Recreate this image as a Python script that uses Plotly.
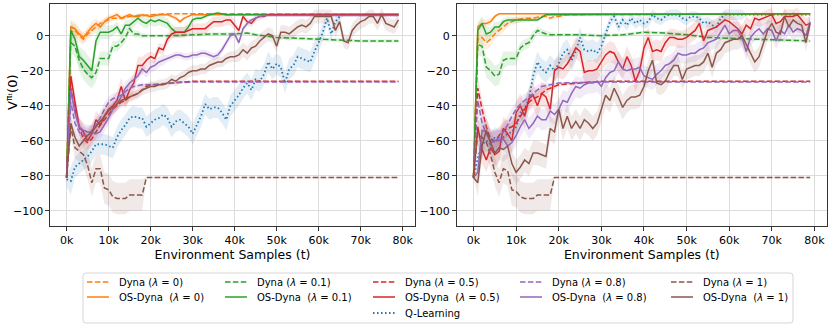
import plotly.graph_objects as go
from plotly.subplots import make_subplots

# x positions are in thousands of environment samples
STEPS = [0, 1, 2, 3, 4, 5, 6, 7, 8, 9, 10, 11, 12, 13, 14, 15, 16, 17, 18, 19,
         20, 21, 22, 23, 24, 25, 26, 27, 28, 29, 30, 31, 32, 33, 34, 35, 36, 37, 38, 39,
         40, 41, 42, 43, 44, 45, 46, 47, 48, 49, 50, 51, 52, 53, 54, 55, 56, 57, 58, 59,
         60, 61, 62, 63, 64, 65, 66, 67, 68, 69, 70, 71, 72, 73, 74, 75, 76, 77, 78, 79]

X_TICKS = [0, 10, 20, 30, 40, 50, 60, 70, 80]
X_TICK_TEXT = ["0k", "10k", "20k", "30k", "40k", "50k", "60k", "70k", "80k"]
Y_TICKS = [-100, -80, -60, -40, -20, 0]

# ---------------- left panel ----------------
L_DYNA0_X = [0, 1, 2, 3, 4, 5, 6, 7, 8, 9, 10, 11, 13, 15, 17, 20, 25, 30, 79]
L_DYNA0_Y = [-81, 2, 3, 0, -2, 1, 3, 5, 7, 8, 9, 10, 10, 11, 11, 12, 12.5, 12.5, 12.5]
L_DYNA0_SD = [0, 4, 4, 4, 3, 3, 3, 3, 2, 2, 2, 1.5, 1, 1, 1, 0.5, 0.3, 0.3, 0.3]

L_OS0_X = [0, 1, 2, 3, 4, 5, 6, 7, 8, 9, 10, 11, 12, 13, 14, 15, 16,
           18, 20, 22, 24, 26, 27, 28, 30, 32, 79]
L_OS0_Y = [-81, 5, 4, 1, -1, 2, 5, 7, 5, 8, 10, 11, 12, 10, 11, 12, 11,
           12, 11, 12, 12, 10, 8, 10, 12, 12, 12.5]
L_OS0_SD = [0, 4, 4, 3, 3, 3, 3, 3, 2, 2, 2, 1.5, 1.5, 1.5, 1.5, 1, 1,
            1, 1, 1, 1, 1.5, 1.5, 1, 0.5, 0.3, 0.3]

L_DYNA01_X = [0, 1, 2, 3, 4, 5, 6, 7, 8, 9, 10, 11, 12, 13, 14, 15, 16, 17, 18,
              20, 25, 30, 35, 40, 43, 45, 50, 55, 60, 65, 70, 79]
L_DYNA01_Y = [-81, -4, -6, -14, -19, -22, -24, -21, -13, -13, -13, -6, -6, -4, -1, 4, 1, 1, 0,
              0, 0, 0.5, 1, 1, 1.5, 0.5, -1, -1.5, -2, -2.5, -3, -3]
L_DYNA01_SD = [0, 6, 6, 6, 6, 6, 6, 5, 4, 4, 4, 3, 3, 3, 3, 2, 2, 2, 1.5,
               1, 1, 1, 1, 1, 1, 1, 1, 1, 1, 1, 1, 1]

L_OS01_X = [0, 1, 2, 3, 4, 5, 6, 7, 8, 9, 10, 11, 12, 13, 14, 15, 16, 17, 18, 19,
            20, 21, 22, 23, 24, 25, 26, 27, 28, 29, 30, 31, 32, 34, 36, 38, 40, 79]
L_OS01_Y = [-81, 3, -2, -12, -14, -17, -20, -3, 2, 2, 2, 3, 5, 1, 6, 6, 8, 10, 8, 7,
            9, 8, 9, 8, 7, 4, 2, 2, 2, 5, 9, 10, 10, 12, 13, 12, 12, 12]
L_OS01_SD = [0, 6, 6, 6, 6, 6, 6, 5, 4, 4, 4, 3, 3, 3, 3, 3, 3, 3, 3, 3,
             3, 3, 3, 3, 3, 3, 3, 3, 3, 2, 2, 1.5, 1.5, 1, 0.5, 0.5, 0.3, 0.3]

L_DYNA05_X = [0, 1, 2, 3, 4, 5, 6, 7, 8, 9, 10, 11, 12, 13, 14, 15, 16, 17, 18, 19, 20,
              22, 25, 30, 79]
L_DYNA05_Y = [-81, -30, -42, -52, -59, -61, -59, -55, -51, -48, -45, -42, -40, -38, -37, -35,
              -34, -33, -31, -29, -28, -28, -27, -26, -26]
L_DYNA05_SD = [0, 6, 5, 5, 5, 5, 4, 4, 4, 4, 4, 3, 3, 3, 3, 2, 2, 2, 1.5, 1, 1,
               0.5, 0.5, 0.3, 0.3]

L_OS05_Y = [-81, -23, -38, -52, -55, -60, -56, -48, -51, -46, -42, -40, -37, -29, -37, -31,
            -27, -17, -17, -14, -12, -13, -7, -8, -2, 1, 2, 2, 2, 3, 4, 4, 4, 4, 6, 8, 8, 8,
            9, 9, 6, 3, 11, 8, 7, 10, 11, 11, 12, 12, 12, 12, 12, 12, 12, 12, 12, 12, 12, 12,
            12, 12, 12, 12, 12, 12, 12, 12, 12, 12, 12, 12, 12, 12, 12, 12, 12, 12, 12, 12]
L_OS05_SD = [0, 6, 6, 5, 5, 5, 5, 5, 5, 5, 5, 5, 5, 5, 5, 5, 5, 5, 5, 4,
             3, 3, 3, 3, 3, 3, 3, 3, 3, 3, 3, 3, 3, 3, 3, 3, 3, 3, 3, 3,
             3, 2, 2, 2, 2, 2, 2, 1, 0.5, 0.5, 0.5, 0.5, 0.5, 0.5, 0.5, 0.5, 0.5, 0.5, 0.5, 0.5,
             0.5, 0.5, 0.5, 0.5, 0.5, 0.5, 0.5, 0.5, 0.5, 0.5, 0.5, 0.5, 0.5, 0.5, 0.5, 0.5, 0.5,
             0.5, 0.5, 0.5]

L_DYNA08_X = [0, 1, 2, 3, 4, 5, 6, 7, 8, 9, 10, 11, 12, 13, 14, 15, 16, 18, 20, 25, 30, 79]
L_DYNA08_Y = [-81, -38, -50, -55, -57, -57, -54, -51, -47, -42, -38, -36, -35, -34, -32, -30,
              -29, -28, -28, -27, -26.5, -26.5]
L_DYNA08_SD = [0, 6, 5, 5, 5, 5, 4, 4, 4, 4, 3, 3, 3, 2, 2, 2, 1.5, 1, 1, 0.5, 0.3, 0.3]

L_OS08_Y = [-81, -31, -44, -52, -54, -55, -55, -56, -55, -51, -47, -42, -39, -35, -30, -27,
            -25, -23, -19, -21, -18, -17, -15, -14, -13, -12, -11, -11, -12, -12, -11, -11,
            -10, -10, -11, -12, -11, -8, -4, 0, 1, -4, 4, 7, 9, 10, 11, 11.5, 11.5, 11.5,
            11.5, 11.5, 11.5, 11.5, 11.5, 11.5, 11.5, 11.5, 11.5, 11.5, 11.5, 11.5, 11.5, 11.5,
            11.5, 11.5, 11.5, 11.5, 11.5, 11.5, 11.5, 11.5, 11.5, 11.5, 11.5, 11.5, 11.5, 11.5,
            11.5, 11.5]
L_OS08_SD = [0, 6, 5, 5, 4, 4, 4, 4, 4, 4, 4, 4, 4, 4, 4, 3, 3, 3, 3, 3,
             3, 3, 3, 3, 2, 2, 2, 2, 2, 2, 2, 2, 2, 2, 2, 2, 2, 2, 2, 2,
             2, 2, 2, 1.5, 1, 1, 0.5, 0.5, 0.5, 0.5, 0.5, 0.5, 0.5, 0.5, 0.5, 0.5, 0.5, 0.5, 0.5,
             0.5, 0.5, 0.5, 0.5, 0.5, 0.5, 0.5, 0.5, 0.5, 0.5, 0.5, 0.5, 0.5, 0.5, 0.5, 0.5, 0.5,
             0.5, 0.5, 0.5, 0.5]

L_DYNA1_X = [0, 1, 2, 3, 4, 5, 6, 7, 8, 9, 10, 11, 12, 13, 14, 15, 16, 17, 18, 19, 79]
L_DYNA1_Y = [-81, -52, -64, -66, -68, -74, -84, -76, -76, -87, -88, -92, -93, -93, -93, -91,
             -91, -91, -91, -81, -81]
L_DYNA1_SD = [0, 6, 6, 6, 7, 8, 8, 8, 8, 9, 9, 9, 9, 9, 9, 9, 9, 9, 9, 0.5, 0.5]

L_OS1_Y = [-81, -50, -58, -63, -60, -57, -55, -52, -49, -46, -43, -41, -39, -37, -36, -35,
           -34, -33, -31, -30, -29, -29, -28, -28, -27, -25, -26, -24, -23, -21, -20, -20,
           -19, -19, -17, -16, -15, -15, -13, -12, -12, -11, -8, -10, -7, -6, -3, -1, 1, 0,
           -6, 2, 2, 1, 3, 5, 6, 5, 7, 11, 11, 11, 11, 11, 3, 8, -3, -4, 3, 6, 8, 9, 11,
           11, 7, 12, 7, 6, 5, 9]
L_OS1_SD = [0, 5, 4, 4, 4, 4, 4, 4, 4, 4, 3, 3, 3, 3, 3, 3, 3, 3, 3, 3,
            3, 3, 3, 3, 3, 3, 3, 3, 3, 3, 3, 3, 3, 3, 3, 3, 3, 3, 3, 3,
            3, 4, 4, 4, 4, 4, 4, 4, 4, 4, 4, 4, 4, 4, 4, 4, 4, 4, 4, 4,
            4, 4, 4, 4, 4, 4, 4, 4, 4, 4, 4, 4, 4, 4, 4, 4, 4, 4, 4, 4]

L_Q_Y = [-82, -83, -75, -73, -71, -69, -66, -62, -62, -62, -63, -64, -58, -54, -51, -47,
         -46, -47, -47, -52, -50, -48, -47, -45, -47, -52, -49, -48, -50, -52, -56, -51,
         -46, -39, -42, -41, -41, -44, -48, -40, -37, -34, -30, -27, -31, -25, -26, -22,
         -15, -19, -16, -18, -27, -19, -17, -12, -13, -14, -15, -9, -4, 2, 10, 1, 8, 11,
         12, 12, 12, 12, 12, 12, 12, 12, 12, 12, 12, 12, 12, 12]
L_Q_SD = [4, 8, 6, 6, 6, 6, 6, 6, 6, 6, 6, 6, 6, 6, 6, 6, 6, 6, 6, 6,
          6, 6, 6, 6, 6, 6, 6, 6, 6, 6, 6, 6, 6, 6, 6, 6, 6, 6, 6, 6,
          6, 6, 6, 6, 6, 6, 6, 6, 6, 6, 6, 6, 6, 6, 6, 6, 6, 6, 6, 6,
          5, 5, 4, 4, 3, 2, 0.5, 0.5, 0.5, 0.5, 0.5, 0.5, 0.5, 0.5, 0.5, 0.5, 0.5, 0.5, 0.5, 0.5]

# ---------------- right panel ----------------
R_DYNA0_X = [0, 1, 2, 3, 4, 5, 6, 7, 8, 9, 10, 12, 14, 16, 17, 18, 19, 20, 22, 79]
R_DYNA0_Y = [-81, -2, -1, -4, -2, 1, 3, 5, 7, 8, 9, 10, 10, 11, 11, 10, 11, 11, 12, 12.5]
R_DYNA0_SD = [0, 4, 4, 4, 4, 3, 3, 3, 2, 2, 2, 1.5, 1.5, 1, 1, 1, 1, 1, 0.5, 0.3]

R_OS0_X = [0, 1, 2, 3, 4, 5, 6, 79]
R_OS0_Y = [-81, 5, 7, 7, 8, 11, 12.5, 12.5]
R_OS0_SD = [0, 3, 3, 2, 2, 1, 0.3, 0.3]

R_DYNA01_X = [0, 1, 2, 3, 4, 5, 6, 7, 8, 9, 10, 11, 12, 13, 14, 15, 16, 17, 18,
              20, 25, 30, 35, 40, 45, 50, 55, 60, 65, 70, 79]
R_DYNA01_Y = [-81, -5, -6, -18, -20, -23, -22, -14, -13, -13, -13, -7, -5, -4, 0, 3, 2, 1, 0.5,
              0.5, 0.5, 0, 0.5, 2, 1.5, 0.5, -1, -1.5, -2, -2.5, -3]
R_DYNA01_SD = [0, 6, 6, 6, 6, 6, 6, 5, 4, 4, 4, 3, 3, 3, 3, 2, 2, 2, 1.5,
               1, 1, 1, 1, 1, 1, 1, 1, 1, 1, 1, 1]

R_OS01_X = [0, 1, 2, 3, 4, 5, 6, 7, 8, 15, 17, 79]
R_OS01_Y = [-81, 3, 7, 1, 2, 5, 5, 8, 9, 9, 12, 12.5]
R_OS01_SD = [0, 4, 4, 4, 3, 3, 3, 2, 2, 1, 0.5, 0.3]

R_DYNA05_X = [0, 1, 2, 3, 4, 5, 6, 7, 8, 9, 10, 11, 12, 13, 14, 15, 16, 17, 18,
              20, 25, 30, 79]
R_DYNA05_Y = [-81, -30, -42, -52, -59, -60, -57, -54, -53, -52, -50, -46, -42, -38, -36, -35,
              -33, -31, -30, -28, -27, -26, -26]
R_DYNA05_SD = [0, 7, 6, 6, 6, 6, 5, 5, 5, 5, 5, 4, 4, 4, 3, 3, 3, 2, 2, 1, 0.5, 0.3, 0.3]

R_OS05_Y = [-81, -52, -65, -71, -64, -68, -66, -53, -56, -60, -44, -40, -46, -36, -34, -40,
            -33, -35, -42, -20, -18, -19, -16, -12, -7, -9, -21, -20, -20, -19, -15, -11,
            -9, -10, -15, -19, -12, -17, -26, -20, -7, -1, -9, -8, -9, -4, -1, -1, -2, -2,
            -1, 1, 3, 7, -3, 3, 4, 5, 7, 9, 8, 6, 4, 1, 6, 4, 10, 9, 10, 11, 12, 7, 8, 11,
            11, 11, 12, 9, 6, 7]
R_OS05_SD = [0, 8, 8, 7, 7, 7, 7, 7, 7, 7, 7, 7, 7, 7, 7, 7, 7, 7, 7, 6,
             6, 6, 6, 6, 6, 6, 6, 6, 6, 6, 6, 6, 6, 6, 6, 6, 6, 6, 6, 6,
             6, 6, 6, 6, 6, 5, 5, 5, 5, 5, 5, 5, 5, 5, 5, 5, 5, 5, 5, 5,
             5, 5, 5, 5, 5, 5, 4, 4, 4, 4, 4, 4, 4, 4, 4, 4, 4, 4, 4, 4]

R_DYNA08_X = [0, 1, 2, 3, 4, 5, 6, 7, 8, 9, 10, 11, 12, 13, 14, 15, 16, 18, 20, 30, 79]
R_DYNA08_Y = [-81, -37, -50, -56, -60, -61, -58, -55, -51, -46, -42, -39, -37, -35, -33, -31,
              -29, -28, -27, -26.5, -26.5]
R_DYNA08_SD = [0, 7, 6, 6, 6, 6, 5, 5, 5, 5, 4, 4, 4, 3, 3, 3, 2, 1, 0.5, 0.3, 0.3]

R_OS08_Y = [-81, -78, -54, -55, -61, -60, -60, -59, -63, -61, -57, -52, -48, -53, -50, -46,
            -48, -48, -43, -45, -42, -37, -38, -33, -29, -30, -28, -27, -27, -26, -29, -24,
            -21, -20, -15, -19, -20, -19, -19, -18, -23, -24, -25, -22, -20, -17, -16, -14,
            -10, -11, -11, -10, -10, -8, -7, -4, -3, -2, 2, 6, 1, 3, 3, -1, -9, -1, 2, 4,
            1, 4, 3, -3, 3, 1, 6, 2, 4, 3, 0, 8]
R_OS08_SD = [0, 6, 6, 6, 6, 6, 6, 6, 6, 6, 6, 6, 6, 6, 6, 6, 6, 6, 6, 6,
             6, 6, 6, 6, 6, 6, 6, 6, 6, 6, 6, 6, 6, 6, 6, 6, 6, 6, 6, 6,
             6, 6, 6, 6, 5, 5, 5, 5, 5, 5, 5, 5, 5, 5, 5, 5, 5, 5, 5, 5,
             5, 5, 5, 5, 5, 5, 5, 5, 5, 5, 5, 5, 5, 5, 5, 5, 5, 5, 5, 5]

R_DYNA1_X = [0, 1, 2, 3, 4, 5, 6, 7, 8, 9, 10, 11, 12, 14, 15, 18, 19, 79]
R_DYNA1_Y = [-81, -56, -58, -61, -68, -78, -84, -76, -77, -88, -89, -92, -93, -93, -91, -91,
             -81, -81]
R_DYNA1_SD = [0, 8, 8, 8, 8, 8, 8, 8, 9, 9, 9, 9, 9, 9, 9, 9, 0.5, 0.5]

R_OS1_Y = [-81, -84, -63, -54, -61, -67, -64, -65, -63, -73, -78, -75, -71, -73, -67, -67,
           -68, -69, -53, -55, -42, -53, -46, -53, -49, -53, -48, -50, -53, -50, -42, -34,
           -37, -30, -35, -41, -37, -35, -35, -34, -29, -20, -14, -27, -28, -26, -21, -17,
           -17, -25, -19, -18, -17, -17, -15, -10, -18, -10, -8, -4, -3, -2, -2, 0, -5,
           -10, -15, -12, -4, 3, 7, 2, 1, 11, 5, 9, 7, 6, -4, 7]
R_OS1_SD = [0, 8, 8, 7, 7, 7, 7, 7, 7, 7, 7, 7, 7, 7, 7, 7, 7, 7, 7, 7,
            7, 7, 7, 7, 7, 7, 7, 7, 7, 7, 7, 7, 7, 7, 7, 7, 7, 7, 7, 7,
            6, 6, 6, 6, 6, 6, 6, 6, 6, 6, 6, 6, 6, 6, 6, 6, 6, 6, 6, 6,
            6, 6, 6, 6, 6, 6, 6, 6, 6, 6, 5, 5, 5, 5, 5, 5, 5, 5, 5, 5]

R_Q_Y = [-81, -70, -62, -60, -62, -58, -60, -58, -56, -55, -52, -44, -42, -36, -23, -15,
         -19, -21, -17, -20, -16, -10, -8, -14, -9, -1, -8, -9, -8, -10, -6, 1, 8, 11, 5,
         9, 6, 10, 7, 9, 7, 8, 12, 10, 9, 11, 12, 12, 12, 10, 9, 11, 11, 10, 7, 8, 6, 5,
         10, 12, 12, 12, 12, 12, 12, 12, 12, 12, 12, 12, 12, 12, 12, 12, 12, 12, 12, 12,
         12, 12]
R_Q_SD = [0, 6, 6, 6, 6, 6, 6, 6, 6, 6, 6, 6, 6, 6, 6, 6, 6, 6, 6, 6,
          6, 6, 6, 6, 6, 6, 6, 6, 6, 6, 6, 3, 3, 3, 3, 3, 3, 3, 3, 3,
          3, 3, 3, 3, 3, 3, 3, 3, 3, 3, 3, 3, 3, 3, 3, 3, 3, 3, 3, 3,
          3, 3, 3, 3, 0.5, 0.5, 0.5, 0.5, 0.5, 0.5, 0.5, 0.5, 0.5, 0.5, 0.5, 0.5, 0.5, 0.5,
          0.5, 0.5]

LAMBDAS = ["0", "0.1", "0.5", "0.8", "1"]
COLORS = ["#ff7f0e", "#2ca02c", "#d62728", "#9467bd", "#8c564b"]
Q_COLOR = "#1f77b4"

# (dyna x, dyna y, dyna sd, os x, os y, os sd) per lambda, per panel
LEFT = [
    (L_DYNA0_X, L_DYNA0_Y, L_DYNA0_SD, L_OS0_X, L_OS0_Y, L_OS0_SD),
    (L_DYNA01_X, L_DYNA01_Y, L_DYNA01_SD, L_OS01_X, L_OS01_Y, L_OS01_SD),
    (L_DYNA05_X, L_DYNA05_Y, L_DYNA05_SD, STEPS, L_OS05_Y, L_OS05_SD),
    (L_DYNA08_X, L_DYNA08_Y, L_DYNA08_SD, STEPS, L_OS08_Y, L_OS08_SD),
    (L_DYNA1_X, L_DYNA1_Y, L_DYNA1_SD, STEPS, L_OS1_Y, L_OS1_SD),
]
RIGHT = [
    (R_DYNA0_X, R_DYNA0_Y, R_DYNA0_SD, R_OS0_X, R_OS0_Y, R_OS0_SD),
    (R_DYNA01_X, R_DYNA01_Y, R_DYNA01_SD, R_OS01_X, R_OS01_Y, R_OS01_SD),
    (R_DYNA05_X, R_DYNA05_Y, R_DYNA05_SD, STEPS, R_OS05_Y, R_OS05_SD),
    (R_DYNA08_X, R_DYNA08_Y, R_DYNA08_SD, STEPS, R_OS08_Y, R_OS08_SD),
    (R_DYNA1_X, R_DYNA1_Y, R_DYNA1_SD, STEPS, R_OS1_Y, R_OS1_SD),
]

FONT = "DejaVu Sans"
DASHED = "5.5px,2.4px"
DOTTED = "1.5px,2.5px"
NBSP = "\u00a0"

# page geometry (pixels) used to place the legend block under the panels
W, H = 830, 327
M_L, M_R, M_T, M_B = 50, 3, 4, 101
LEG_COLS = [87, 225, 373, 520, 671]   # left end of each legend column's line sample
LEG_ROWS = [282, 297, 313]
LEG_BOX = (83, 273, 793, 323)


def rgba(hex_color, a):
    h = hex_color.lstrip("#")
    r, g, b = int(h[0:2], 16), int(h[2:4], 16), int(h[4:6], 16)
    return f"rgba({r},{g},{b},{a})"


def px_x(px):
    return (px - M_L) / (W - M_L - M_R)


def px_y(py):
    return (H - M_B - py) / (H - M_T - M_B)


def add_band(fig, col, x, y, sd, color):
    lo = [v - s for v, s in zip(y, sd)]
    hi = [v + s for v, s in zip(y, sd)]
    fig.add_trace(go.Scatter(x=list(x) + list(x)[::-1], y=hi + lo[::-1],
                             fill="toself", fillcolor=rgba(color, 0.13),
                             line=dict(width=0), mode="lines", hoverinfo="skip",
                             showlegend=False), row=1, col=col)


def add_line(fig, col, x, y, color, dash, name, width=1.5):
    fig.add_trace(go.Scatter(x=x, y=y, mode="lines", name=name,
                             line=dict(color=color, width=width, dash=dash),
                             showlegend=False), row=1, col=col)


def legend_entry(fig, col_px, row_py, color, dash, text, width=1.5):
    fig.add_shape(type="line", xref="paper", yref="paper",
                  x0=px_x(col_px), x1=px_x(col_px + 22), y0=px_y(row_py), y1=px_y(row_py),
                  line=dict(color=color, width=width, dash=dash))
    fig.add_annotation(text=text, xref="paper", yref="paper", x=px_x(col_px + 30),
                       y=px_y(row_py), xanchor="left", yanchor="middle", showarrow=False,
                       font=dict(family=FONT, size=10, color="black"))


fig = make_subplots(rows=1, cols=2)

for col, panel, q_y, q_sd in [(1, LEFT, L_Q_Y, L_Q_SD), (2, RIGHT, R_Q_Y, R_Q_SD)]:
    add_band(fig, col, STEPS, q_y, q_sd, Q_COLOR)
    add_line(fig, col, STEPS, q_y, Q_COLOR, DOTTED, "Q-Learning", width=1.8)
    for i, (dx, dy, dsd, ox, oy, osd) in enumerate(panel):
        c = COLORS[i]
        add_band(fig, col, dx, dy, dsd, c)
        add_band(fig, col, ox, oy, osd, c)
        add_line(fig, col, dx, dy, c, DASHED, f"Dyna (λ = {LAMBDAS[i]})")
        add_line(fig, col, ox, oy, c, "solid", f"OS-Dyna (λ = {LAMBDAS[i]})")

# legend block: rounded frame, then one column per lambda, Q-Learning under the middle one
x0, y0, x1, y1 = LEG_BOX
r = 3
fig.add_shape(type="path", xref="paper", yref="paper",
              path=(f"M {px_x(x0 + r)},{px_y(y0)} L {px_x(x1 - r)},{px_y(y0)} "
                    f"Q {px_x(x1)},{px_y(y0)} {px_x(x1)},{px_y(y0 + r)} "
                    f"L {px_x(x1)},{px_y(y1 - r)} Q {px_x(x1)},{px_y(y1)} {px_x(x1 - r)},{px_y(y1)} "
                    f"L {px_x(x0 + r)},{px_y(y1)} Q {px_x(x0)},{px_y(y1)} {px_x(x0)},{px_y(y1 - r)} "
                    f"L {px_x(x0)},{px_y(y0 + r)} Q {px_x(x0)},{px_y(y0)} {px_x(x0 + r)},{px_y(y0)} Z"),
              line=dict(color="#d6d6d6", width=1), fillcolor="white")

for i, lam in enumerate(LAMBDAS):
    legend_entry(fig, LEG_COLS[i], LEG_ROWS[0], COLORS[i], DASHED,
                 f"Dyna (<i>λ</i>{NBSP}={NBSP}{lam})")
    legend_entry(fig, LEG_COLS[i], LEG_ROWS[1], COLORS[i], "solid",
                 f"OS-Dyna{NBSP}{NBSP}(<i>λ</i>{NBSP}={NBSP}{lam})")
legend_entry(fig, LEG_COLS[2], LEG_ROWS[2], Q_COLOR, DOTTED, "Q-Learning", width=1.8)

axis_common = dict(showline=True, mirror=True, linecolor="#333333", linewidth=1.3,
                   ticks="outside", ticklen=3.5, tickwidth=1, tickcolor="#333333",
                   showgrid=True, gridcolor="#dcdcdc", gridwidth=1, zeroline=False,
                   automargin=False,
                   tickfont=dict(family=FONT, size=11, color="black"))

fig.update_xaxes(range=[-3.95, 82.95], tickvals=X_TICKS, ticktext=X_TICK_TEXT,
                 title=dict(text="Environment Samples (t)", standoff=1,
                            font=dict(family=FONT, size=12.5, color="black")),
                 **axis_common)
fig.update_yaxes(range=[-108.7, 18.1], tickvals=Y_TICKS, **axis_common)
fig.update_xaxes(domain=[0.0, 0.4698], row=1, col=1)
fig.update_xaxes(domain=[0.5234, 1.0], row=1, col=2)

fig.add_annotation(text="V<sup>πₜ</sup>(0)", xref="paper", yref="paper",
                   x=px_x(12), y=px_y(92), xanchor="center", yanchor="middle",
                   textangle=-90, showarrow=False,
                   font=dict(family=FONT, size=13, color="black"))

fig.update_layout(
    width=W, height=H,
    margin=dict(l=M_L, r=M_R, t=M_T, b=M_B),
    paper_bgcolor="white", plot_bgcolor="white",
    font=dict(family=FONT, color="black"),
    showlegend=False,
)

fig.write_html("out.html", config={"displayModeBar": False},
               post_script="document.body.style.margin = '0';")
